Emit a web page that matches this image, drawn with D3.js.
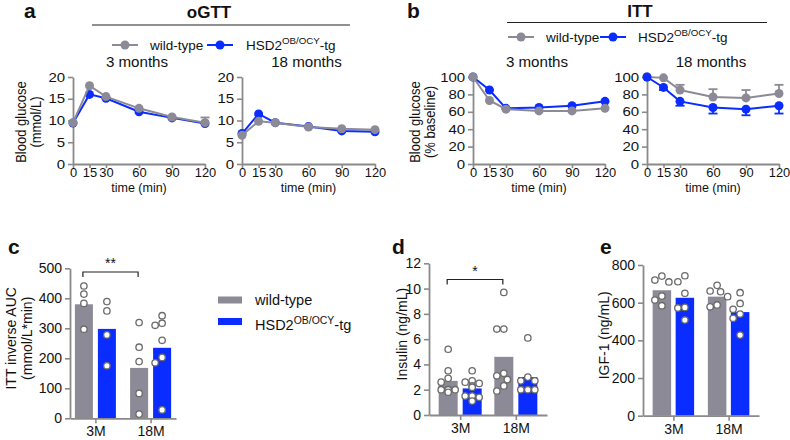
<!DOCTYPE html>
<html><head><meta charset="utf-8">
<script src="https://cdn.jsdelivr.net/npm/d3@7"></script>
<style>body{margin:0;background:#fff} text{font-family:"Liberation Sans",Arial,sans-serif}</style>
</head><body><svg id="c" width="790" height="440"></svg>
<script>
// ---------- DATA ----------
const timePoints = [0, 15, 30, 60, 90, 120];
const ogtt3Wt  = [9.5, 18.0, 15.5, 12.8, 10.8, 9.5];
const ogtt3Tg  = [9.4, 16.0, 15.1, 12.0, 10.6, 9.3];
const ogtt3WtErr = [0, 0, 0, 0, 0, 1.2];
const ogtt18Wt = [6.6, 9.8, 9.5, 8.5, 8.1, 7.9];
const ogtt18Tg = [7.0, 11.5, 9.5, 8.6, 7.6, 7.4];
const itt3Wt = [100, 73, 63, 61, 61, 64];
const itt3Tg = [100, 85, 64, 65, 67, 72];
const itt18Wt = [100, 99, 85, 77, 76, 81];
const itt18WtErr = [0, 0, 6, 9, 9, 10];
const itt18Tg = [100, 88, 72, 65, 63, 67];
const itt18TgErr = [0, 3, 5, 7, 7, 9];
const ogttTicks = [0, 5, 10, 15, 20];
const ittTicks = [0, 20, 40, 60, 80, 100];

const groups = ["3M", "18M"];
const aucMeans = {wt: [380, 168], tg: [298, 235]};
const aucDots = {wt: [[441, 414, 383, 297], [319, 237, 189, 83, 14]],
                 tg: [[389, 358, 278, 175], [342, 317, 310, 260, 203, 185, 28]]};
const insMeans = {wt: [2.7, 4.6], tg: [2.1, 3.0]};
const insDots = {wt: [[5.2, 3.5, 2.9, 2.6, 2.0, 2.0, 2.0, 2.0, 1.8], [9.7, 6.8, 6.8, 3.3, 3.1, 2.8, 2.3, 1.9]],
                 tg: [[3.5, 2.7, 2.6, 2.5, 2.3, 2.2, 1.5, 1.5, 1.4, 1.1], [6.1, 3.0, 2.7, 2.7, 2.0, 2.0, 2.0]]};
const igfMeans = {wt: [666, 632], tg: [626, 550]};
const igfDots = {wt: [[741, 720, 710, 635, 614, 584], [692, 662, 658, 632, 588, 578]],
                 tg: [[743, 711, 650, 575, 572, 508], [653, 596, 565, 540, 517, 428]]};

// ---------- STYLE ----------
const GREY = "#8b8a96", BLUE = "#0b2cff", AX = "#8a8a8a";
const svg = d3.select("#c");

function styleAxis(g, fs, sx) {
  g.select(".domain").attr("stroke", AX).attr("stroke-width", 1.8);
  g.selectAll(".tick line").attr("stroke", AX).attr("stroke-width", 1.6);
  const t = g.selectAll(".tick text").attr("fill", "#111").attr("font-size", fs)
    .attr("font-family", "Liberation Sans, Arial, sans-serif");
  if (sx) t.attr("transform", `scale(${sx},1)`);
}

function txt(x, y, s, fs, opts = {}) {
  const sx = opts.sx || 1;
  const t = svg.append("text").attr("x", 0).attr("y", 0).attr("font-size", fs)
    .attr("text-anchor", opts.anchor || "middle").attr("fill", "#111")
    .attr("transform", `translate(${x},${y}) scale(${sx},1)` + (opts.rotate ? " rotate(-90)" : ""));
  if (opts.bold) t.attr("font-weight", "bold");
  t.text(s);
  return t;
}

function hsdLabel(x, y, fs, anchor) {
  const t = svg.append("text").attr("x", x).attr("y", y).attr("font-size", fs)
    .attr("text-anchor", anchor || "start").attr("fill", "#111");
  t.append("tspan").text("HSD2");
  t.append("tspan").attr("font-size", fs * 0.72).attr("dy", -fs * 0.42).text("OB/OCY");
  t.append("tspan").attr("dy", fs * 0.42).text("-tg");
  return t;
}

// ---------- LINE PANELS ----------
function linePanel(o) {
  const x = d3.scaleLinear().domain([0, 120]).range([o.x0, o.x1]);
  const y = d3.scaleLinear().domain(o.yDomain).range([164, 77]);
  const g = svg.append("g");
  const ya = g.append("g").attr("transform", `translate(${o.x0},0)`)
    .call(d3.axisLeft(y).tickValues(o.yTicks).tickSize(5).tickSizeOuter(0).tickPadding(1.5));
  styleAxis(ya, 12.5, 1.2);
  const xa = g.append("g").attr("transform", `translate(0,164)`)
    .call(d3.axisBottom(x).tickValues(timePoints).tickSize(4).tickSizeOuter(0).tickPadding(0));
  styleAxis(xa, 12.5, 1.03);
  o.series.forEach(s => {
    s.vals.forEach((v, i) => {
      const e = s.err ? s.err[i] : 0;
      if (!e) return;
      const y2 = y(v + s.dir * e);
      g.append("line").attr("x1", x(timePoints[i])).attr("x2", x(timePoints[i]))
        .attr("y1", y(v)).attr("y2", y2).attr("stroke", s.color).attr("stroke-width", 1.8);
      g.append("line").attr("x1", x(timePoints[i]) - 4.5).attr("x2", x(timePoints[i]) + 4.5)
        .attr("y1", y2).attr("y2", y2).attr("stroke", s.color).attr("stroke-width", 1.8);
    });
    g.append("path").datum(s.vals)
      .attr("d", d3.line().x((d, i) => x(timePoints[i])).y(d => y(d)))
      .attr("fill", "none").attr("stroke", s.color).attr("stroke-width", 2);
    g.selectAll(null).data(s.vals).enter().append("circle")
      .attr("cx", (d, i) => x(timePoints[i])).attr("cy", d => y(d)).attr("r", 4.5)
      .attr("fill", s.color);
  });
  txt((o.x0 + o.x1) / 2 - 2, 67, o.title, 14, {sx: 1.08});
  txt((o.x0 + o.x1) / 2, 192, "time (min)", 12.5);
}

linePanel({x0: 73, x1: 205, yDomain: [0, 20], yTicks: ogttTicks, title: "3 months",
  series: [{vals: ogtt3Tg, color: BLUE}, {vals: ogtt3Wt, err: ogtt3WtErr, dir: 1, color: GREY}]});
linePanel({x0: 242, x1: 375, yDomain: [0, 20], yTicks: ogttTicks, title: "18 months",
  series: [{vals: ogtt18Tg, color: BLUE}, {vals: ogtt18Wt, color: GREY}]});
linePanel({x0: 473, x1: 605, yDomain: [0, 100], yTicks: ittTicks, title: "3 months",
  series: [{vals: itt3Tg, color: BLUE}, {vals: itt3Wt, color: GREY}]});
linePanel({x0: 647, x1: 779, yDomain: [0, 100], yTicks: ittTicks, title: "18 months",
  series: [{vals: itt18Wt, err: itt18WtErr, dir: 1, color: GREY}, {vals: itt18Tg, err: itt18TgErr, dir: -1, color: BLUE}]});

// y labels line panels
txt(26, 122, "Blood glucose", 13, {rotate: true, sx: 1.15});
txt(41, 122, "(mmol/L)", 13, {rotate: true, sx: 1.15});
txt(420, 122, "Blood glucose", 13, {rotate: true, sx: 1.15});
txt(435, 122, "(% baseline)", 13, {rotate: true, sx: 1.15});

// titles & legends top
txt(209, 18, "oGTT", 17, {bold: true});
svg.append("line").attr("x1", 92).attr("x2", 350).attr("y1", 25).attr("y2", 25).attr("stroke", "#222").attr("stroke-width", 1.2);
txt(640, 17, "ITT", 17, {bold: true});
svg.append("line").attr("x1", 507).attr("x2", 767).attr("y1", 22.5).attr("y2", 22.5).attr("stroke", "#222").attr("stroke-width", 1.2);

function lineLegend(x, y, color) {
  svg.append("line").attr("x1", x).attr("x2", x + 26).attr("y1", y).attr("y2", y).attr("stroke", color).attr("stroke-width", 2);
  svg.append("circle").attr("cx", x + 13).attr("cy", y).attr("r", 4.5).attr("fill", color);
}
lineLegend(112, 45, GREY); txt(150, 50, "wild-type", 13.5, {anchor: "start"});
lineLegend(207, 45, BLUE); hsdLabel(246, 50, 13.5);
lineLegend(508, 37, GREY); txt(546, 42, "wild-type", 13.5, {anchor: "start"});
lineLegend(600, 37, BLUE); hsdLabel(638, 42, 13.5);

// panel letters
txt(24, 18, "a", 21, {bold: true, anchor: "start"});
txt(407, 18, "b", 21, {bold: true, anchor: "start"});
txt(8, 254, "c", 21, {bold: true, anchor: "start"});
txt(392, 254, "d", 21, {bold: true, anchor: "start"});
txt(600, 254, "e", 21, {bold: true, anchor: "start"});

// ---------- BAR PANELS ----------
function barPanel(o) {
  const y = d3.scaleLinear().domain(o.yDomain).range([o.yBot, o.yTop]);
  const xg = d3.scalePoint().domain(groups).range([o.x0, o.x1]).padding(o.pad);
  const xs = d3.scalePoint().domain(["wt", "tg"]).range([-o.off, o.off]);
  const g = svg.append("g");
  ["wt", "tg"].forEach(k => {
    groups.forEach((gr, gi) => {
      const cx = xg(gr) + xs(k);
      g.append("rect").attr("x", cx - o.bw / 2).attr("width", o.bw)
        .attr("y", y(o.means[k][gi])).attr("height", y(o.yDomain[0]) - y(o.means[k][gi]))
        .attr("fill", k === "wt" ? GREY : BLUE);
    });
  });
  const ya = g.append("g").attr("transform", `translate(${o.x0},0)`)
    .call(d3.axisLeft(y).tickValues(o.yTicks).tickSize(5).tickSizeOuter(0).tickPadding(3));
  styleAxis(ya, 14);
  const xa = g.append("g").attr("transform", `translate(0,${o.yBot})`)
    .call(d3.axisBottom(xg).tickSize(5).tickSizeOuter(0).tickPadding(3));
  styleAxis(xa, 14);
  const r = 3.2, minD = 2 * r + 0.6;
  const cands = [0, -3.5, 3.5, -7, 7, -10.5, 10.5];
  ["wt", "tg"].forEach(k => {
    groups.forEach((gr, gi) => {
      const cx = xg(gr) + xs(k);
      const placed = [];
      o.dots[k][gi].forEach(v => {
        const py = y(v);
        let px = cx;
        for (const c of cands) {
          if (placed.every(p => Math.hypot(p[0] - (cx + c), p[1] - py) >= minD)) { px = cx + c; break; }
        }
        placed.push([px, py]);
        g.append("circle").attr("cx", px).attr("cy", py).attr("r", r)
          .attr("fill", "#fff").attr("stroke", "#6a6a6a").attr("stroke-width", 1.3);
      });
    });
  });
  txt(o.labX, (o.yTop + o.yBot) / 2 - 5, o.label1, 14, {rotate: true});
  if (o.label2) txt(o.labX + 16, (o.yTop + o.yBot) / 2 - 5, o.label2, 14, {rotate: true});
  if (o.sig) {
    const xa1 = xg("3M") + xs("wt") - 1, xb1 = xg("18M") + xs("wt") - 1, yb = o.sig.y;
    g.append("path").attr("d", `M${xa1},${yb + 5}V${yb}H${xb1}V${yb + 5}`)
      .attr("fill", "none").attr("stroke", "#222").attr("stroke-width", 1.2);
    txt((xa1 + xb1) / 2, yb - 4, o.sig.text, 14);
  }
}

barPanel({x0: 70, x1: 176, pad: 0.46, off: 11.5, bw: 18, yTop: 268.3, yBot: 418.3,
  yDomain: [0, 500], yTicks: [0, 100, 200, 300, 400, 500], means: aucMeans, dots: aucDots,
  labX: 16, label1: "ITT inverse AUC", label2: "(mmol/L*min)", sig: {y: 272, text: "**"}});
barPanel({x0: 429, x1: 547, pad: 0.56, off: 12, bw: 19, yTop: 263.3, yBot: 415,
  yDomain: [0, 12], yTicks: [0, 2, 4, 6, 8, 10, 12], means: insMeans, dots: insDots,
  labX: 407, label1: "Insulin (ng/mL)", sig: {y: 279.5, text: "*"}});
barPanel({x0: 643, x1: 759, pad: 0.55, off: 11.5, bw: 18.5, yTop: 265, yBot: 415.7,
  yDomain: [0, 800], yTicks: [0, 200, 400, 600, 800], means: igfMeans, dots: igfDots,
  labX: 609, label1: "IGF-1 (ng/mL)"});

// bar legend
svg.append("rect").attr("x", 218).attr("y", 296.5).attr("width", 24).attr("height", 7).attr("fill", GREY);
txt(255, 305, "wild-type", 14.5, {anchor: "start"});
svg.append("rect").attr("x", 218).attr("y", 318).attr("width", 24).attr("height", 7).attr("fill", BLUE);
hsdLabel(255, 330, 14.5);
</script></body></html>
